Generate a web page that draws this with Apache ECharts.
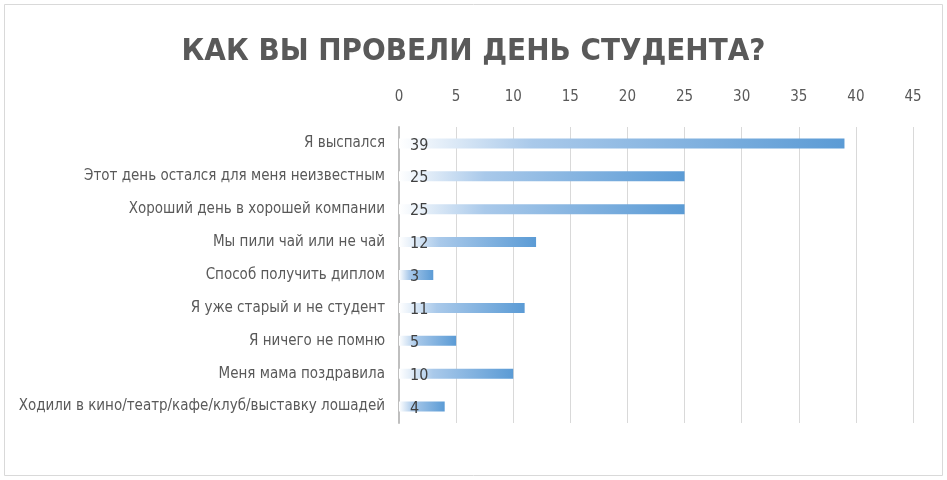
<!DOCTYPE html>
<html><head><meta charset="utf-8">
<script src="https://cdn.jsdelivr.net/npm/echarts@6/dist/echarts.min.js"></script>
<style>html,body{margin:0;padding:0;background:#fff}#c{width:947px;height:480px}</style>
</head><body><div id="c"></div>
<script>
const categories = ["Я выспался","Этот день остался для меня неизвестным","Хороший день в хорошей компании","Мы пили чай или не чай","Способ получить диплом","Я уже старый и не студент","Я ничего не помню","Меня мама поздравила","Ходили в кино/театр/кафе/клуб/выставку лошадей"];
const values = [39,25,25,12,3,11,5,10,4];
const chart = echarts.init(document.getElementById('c'));
chart.setOption({
  animation:false,
  graphic:[{type:'rect',shape:{x:4.5,y:4.5,width:938,height:471},style:{fill:'none',stroke:'#d9d9d9',lineWidth:1}}],
  title:{text:'КАК ВЫ ПРОВЕЛИ ДЕНЬ СТУДЕНТА?',left:'center',top:31,textStyle:{fontFamily:'DejaVu Sans Condensed',fontWeight:'bold',fontSize:31,color:'#595959'}},
  grid:{left:399,right:34,top:127,bottom:57},
  xAxis:{type:'value',position:'top',min:0,max:45,interval:5,
    axisLabel:{color:'#595959',fontSize:15,fontFamily:'DejaVu Sans Condensed',margin:22},
    axisLine:{show:false},axisTick:{show:false},
    splitLine:{lineStyle:{color:'#d9d9d9'}}},
  yAxis:{type:'category',data:categories,inverse:true,
    axisLine:{show:true,lineStyle:{color:'#bfbfbf',width:2}},axisTick:{show:false},
    axisLabel:{color:'#595959',fontSize:15,fontFamily:'DejaVu Sans Condensed',margin:14}},
  series:[{type:'bar',data:values,barWidth:10,
    itemStyle:{color:{type:'linear',x:0,y:0,x2:1,y2:0,colorStops:[{offset:0,color:'#ffffff'},{offset:0.3,color:'#a9c9ea'},{offset:1,color:'#5b9bd5'}]}},
    label:{show:true,position:'insideLeft',offset:[6,2],color:'#404040',fontSize:16,fontFamily:'DejaVu Sans Condensed'}}]
});
</script></body></html>
